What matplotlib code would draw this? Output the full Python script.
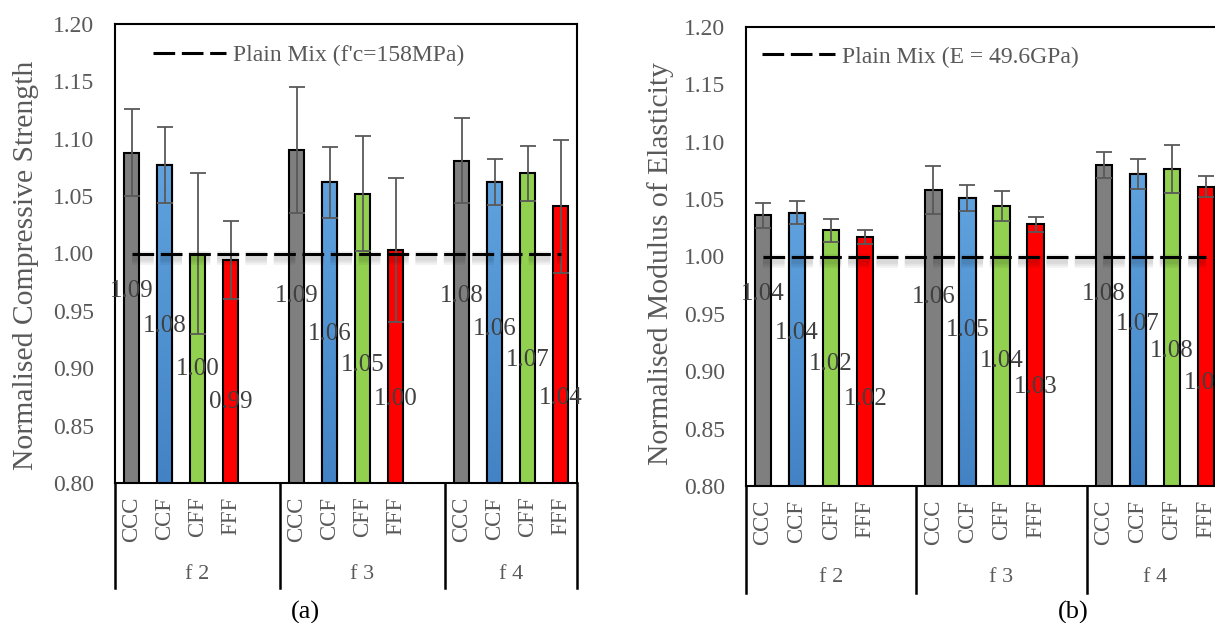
import matplotlib.pyplot as plt
import numpy as np
from matplotlib.colors import LinearSegmentedColormap
from matplotlib.transforms import offset_copy

plt.rcParams['font.family'] = ['Liberation Serif', 'DejaVu Serif']
plt.rcParams['lines.scale_dashes'] = False

groups = ['f 2', 'f 3', 'f 4']
mixes = ['CCC', 'CCF', 'CFF', 'FFF']
plain = 1.0

# normalised compressive strength (rows = f 2, f 3, f 4)
fc = [[1.088, 1.077, 1.000, 0.994],
      [1.090, 1.062, 1.052, 1.003],
      [1.081, 1.062, 1.070, 1.041]]
fc_err = [[0.038, 0.033, 0.070, 0.034],
          [0.055, 0.031, 0.050, 0.063],
          [0.037, 0.020, 0.024, 0.058]]

# normalised modulus of elasticity
E = [[1.036, 1.038, 1.023, 1.017],
     [1.058, 1.051, 1.044, 1.028],
     [1.080, 1.072, 1.076, 1.061]]
E_err = [[0.011, 0.010, 0.010, 0.006],
         [0.021, 0.011, 0.013, 0.0065],
         [0.0115, 0.013, 0.021, 0.0095]]

# where excel dropped the data labels (y in data units)
lbl_y_a = [[0.967, 0.937, 0.899, 0.871],
           [0.963, 0.930, 0.903, 0.873],
           [0.963, 0.934, 0.907, 0.874]]
lbl_y_b = [[0.967, 0.933, 0.906, 0.876],
           [0.965, 0.936, 0.909, 0.886],
           [0.967, 0.941, 0.918, 0.890]]

colors = ['#7f7f7f', '#5b9bd5', '#92d050', '#ff0000']
blue_grad = LinearSegmentedColormap.from_list('bl', ['#4383c5', '#5fa2de'])
txt = '#595959'

fig = plt.figure(figsize=(12.15, 6.23), dpi=100)


def panel(rect, vals, errs, lbl_y, ylabel, leg, ylab_pos, leg_pos, depth):
    ax = fig.add_axes(rect)
    vals = np.array(vals)
    errs = np.array(errs)
    # 5 slots per group (empty slot between groups)
    xs = np.array([g * 5 + i for g in range(len(groups)) for i in range(len(mixes))])
    flat = vals.ravel()
    bars = ax.bar(xs, flat, width=0.48, color=colors * len(groups),
                  edgecolor='black', linewidth=1.5, zorder=2)
    for k, b in enumerate(bars):
        if k % 4 == 1:
            grad = np.linspace(0, 1, 100).reshape(-1, 1)
            im = ax.imshow(grad, extent=[b.get_x(), b.get_x() + b.get_width(), 0.8, b.get_height()],
                           origin='lower', aspect='auto', cmap=blue_grad, zorder=2.05)
            im.set_clip_path(b)
            ax.bar(b.get_x() + b.get_width() / 2, b.get_height(), width=b.get_width(),
                   fill=False, edgecolor='black', linewidth=1.5, zorder=2.1)
    ax.errorbar(xs, flat, yerr=errs.ravel(), fmt='none', ecolor='#595959',
                elinewidth=1.3, capsize=5.5, capthick=1.3, zorder=3)

    # soft shadow under the plain-mix line
    for w in [10, 7, 4]:
        ax.plot(xs, np.full(len(xs), plain), color='black', alpha=0.05, lw=w,
                dashes=(15.6, 4.8), zorder=3.5,
                transform=offset_copy(ax.transData, fig, x=0, y=-4, units='dots'))
    line, = ax.plot(xs, np.full(len(xs), plain), color='black', lw=2.2,
                    dashes=(15.6, 4.8), zorder=4, label=leg)

    for x, v, y in zip(xs, flat, np.array(lbl_y).ravel()):
        ax.text(x, y, '%.2f' % v, ha='center', va='center', fontsize=18,
                color='#404040', zorder=5)

    ax.set_xlim(-0.5, 13.5)
    ax.set_ylim(0.8, 1.2)
    ticks = np.arange(0.80, 1.201, 0.05)
    ax.set_yticks(ticks)
    ax.set_yticklabels(['%.2f' % t for t in ticks])
    ax.tick_params(axis='y', length=0, pad=15, labelsize=17, labelcolor=txt)
    ax.set_xticks([])
    for s in ax.spines.values():
        s.set_linewidth(1.5)
        s.set_color('black')
    ax.set_ylabel(ylabel, fontsize=21.3, color=txt)
    ax.yaxis.set_label_coords(*ylab_pos)

    ax.legend(handles=[line], loc='center left', bbox_to_anchor=leg_pos, frameon=False,
              fontsize=17, labelcolor=txt, handlelength=3.1, handletextpad=0.3,
              borderpad=0, borderaxespad=0)

    # category table under the plot area
    tr = ax.get_xaxis_transform()
    for xb in [-0.5, 4.5, 9.5, 13.5]:
        ax.plot([xb, xb], [0, -depth], color='black', lw=1.8, transform=tr,
                clip_on=False, zorder=6)
    for x, m in zip(xs, mixes * len(groups)):
        ax.text(x, -0.03, m, rotation=90, ha='center', va='top', fontsize=16.5,
                color=txt, transform=tr, clip_on=False)
    for g, name in enumerate(groups):
        lo = g * 5 - 0.5
        hi = min(lo + 5, 13.5)
        ax.text((lo + hi) / 2, -0.2, name, ha='center', va='center', fontsize=16,
                color=txt, transform=tr, clip_on=False)
    return ax


panel([115 / 1215, 140 / 623, 462 / 1215, 459 / 623], fc, fc_err, lbl_y_a,
      'Normalised Compressive Strength', "Plain Mix (f'c=158MPa)",
      (-0.165, 0.475), (0.082, 0.932), 105 / 459)
panel([746 / 1215, 137 / 623, 477 / 1215, 459 / 623], E, E_err, lbl_y_b,
      'Normalised Modulus of Elasticity', 'Plain Mix (E = 49.6GPa)',
      (-0.151, 0.484), (0.0335, 0.935), 107 / 459)

fig.text(305 / 1215, 1 - 612 / 623, '(a)', ha='center', va='center', fontsize=19)
fig.text(1073 / 1215, 1 - 612 / 623, '(b)', ha='center', va='center', fontsize=19)

fig.savefig('out.png', dpi=100)
